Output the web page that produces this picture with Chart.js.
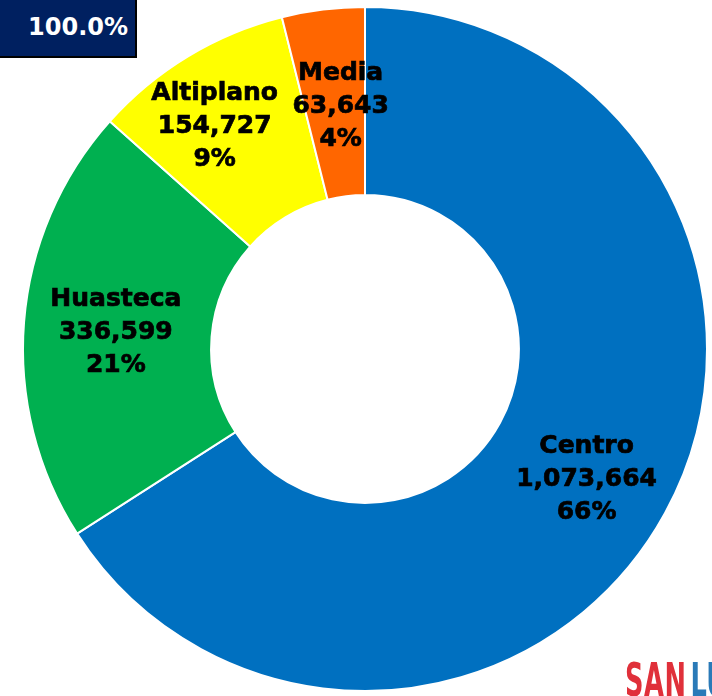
<!DOCTYPE html>
<html>
<head>
<meta charset="utf-8">
<script src="https://cdn.jsdelivr.net/npm/chart.js@4.4.1/dist/chart.umd.min.js"></script>
<style>
  html, body { margin: 0; padding: 0; background: #fff; overflow: hidden; }
  #wrap { position: relative; width: 712px; height: 696px; overflow: hidden; }
  canvas { display: block; }
  #total {
    position: absolute; left: 0; top: 0; width: 137px; height: 58px;
    background: #002060; color: #fff; font: bold 24px "DejaVu Sans", Verdana, sans-serif;
    text-align: right; box-sizing: border-box; padding-right: 7px; padding-top: 12px; line-height: 30px;
    border-right: 2px solid #000; border-bottom: 2px solid #000;
  }
  #logo {
    position: absolute; left: 625px; top: 653px; white-space: nowrap;
    font: bold 46px "Liberation Sans Narrow", "DejaVu Sans Condensed", sans-serif;
    transform: scaleX(0.62); transform-origin: left top; letter-spacing: 1px;
  }
</style>
</head>
<body>
<div id="wrap">
  <canvas id="grafica" width="712" height="696"></canvas>
  <div id="total">100.0%</div>
  <div id="logo"><span style="color:#e0303a">SAN</span><span style="color:#2a7ab8; margin-left:6px">LUIS</span></div>
</div>
<script>
// regiones de San Luis Potosí
const regiones = ["Centro", "Huasteca", "Altiplano", "Media"];
const poblacion = [1073664, 336599, 154727, 63643];
const porcentajes = ["66%", "21%", "9%", "4%"];
const colores = ["#0070C0", "#00B050", "#FFFF00", "#FF6600"];

// etiquetas dentro de cada rebanada
const etiquetas = {
  id: "etiquetas",
  afterDatasetsDraw(chart) {
    const ctx = chart.ctx;
    const meta = chart.getDatasetMeta(0);
    const ajustes = [[4, 12], [-2, 3], [-22, -10], [6, 4]];
    ctx.save();
    ctx.font = "bold 25px 'DejaVu Sans', Verdana, sans-serif";
    ctx.fillStyle = "#000";
    ctx.strokeStyle = "#000";
    ctx.lineWidth = 0.7;
    ctx.textAlign = "center";
    ctx.textBaseline = "middle";
    meta.data.forEach((arc, i) => {
      const p = arc.tooltipPosition();
      const x = p.x + ajustes[i][0];
      const y = p.y + ajustes[i][1];
      const lineas = [regiones[i], poblacion[i].toLocaleString("en-US"), porcentajes[i]];
      lineas.forEach((t, j) => {
        ctx.fillText(t, x, y + (j - 1) * 33);
        ctx.strokeText(t, x, y + (j - 1) * 33);
      });
    });
    ctx.restore();
  }
};

let ctx = document.querySelector("#grafica").getContext("2d");
let grafica = new Chart(ctx, {
  type: "doughnut",
  data: {
    labels: regiones,
    datasets: [{
      data: poblacion,
      backgroundColor: colores,
      borderColor: "#fff",
      borderWidth: 2
    }]
  },
  options: {
    responsive: false,
    animation: false,
    cutout: "45%",
    layout: { padding: { left: 22, right: 4, top: 6, bottom: 4 } },
    plugins: {
      legend: { display: false },
      tooltip: { enabled: false }
    }
  },
  plugins: [etiquetas]
});
</script>
</body>
</html>
